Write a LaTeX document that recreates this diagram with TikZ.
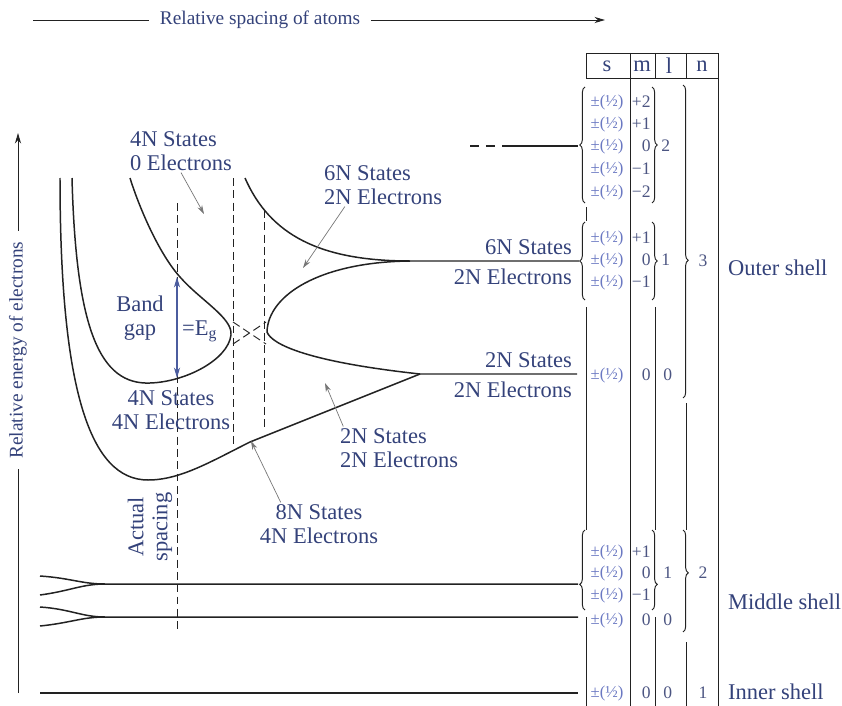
\documentclass[tikz,border=0pt]{standalone}
\usepackage{fontspec}
\setmainfont{Liberation Serif}
\usetikzlibrary{arrows.meta, decorations.pathreplacing}
\definecolor{bdink}{HTML}{34427A}
\definecolor{bdline}{HTML}{222222}
\definecolor{bdspin}{HTML}{6A78C2}
\definecolor{bdnum}{HTML}{4C5582}
\definecolor{bdgrey}{HTML}{777777}
\definecolor{bdgap}{HTML}{4B5C9E}

\begin{document}
\begin{tikzpicture}[x=0.02cm, y=-0.02cm, font=\fontsize{12.8}{13.6}\selectfont,
    lbl/.style={text=bdink, inner sep=1pt},
    band/.style={draw=bdline, line width=0.85pt},
    guide/.style={draw=bdline, line width=0.55pt, dash pattern=on 4.5pt off 2.5pt},
    pointer/.style={draw=bdgrey, line width=0.4pt, -{Stealth[length=5pt, width=3pt]}},
    spin/.style={text=bdspin, font=\fontsize{9.5}{10}\selectfont, inner sep=0pt},
    qnum/.style={text=bdnum, font=\fontsize{10}{11}\selectfont, inner sep=0pt},
    rule/.style={draw=bdline, line width=0.55pt},
    qbrace/.style={rule, decorate, decoration={brace, amplitude=3pt, aspect=#1}},
    qbrace/.default=0.5]
  \useasboundingbox (0,0) rectangle (842,706);

  \node[lbl, inner xsep=6pt, font=\fontsize{11}{13}\selectfont] (spacing) at (260,20) {Relative spacing of atoms};
  \draw[rule] (33,20) -- (spacing.west);
  \draw[rule, -{Stealth[length=6pt, width=3.5pt]}] (spacing.east) -- (605,20);
  \node[lbl, inner xsep=6pt, rotate=90, font=\fontsize{11}{13}\selectfont] (energy) at (18,350) {Relative energy of electrons};
  \draw[rule] (18,693) -- (energy.west);
  \draw[rule, -{Stealth[length=6pt, width=3.5pt]}] (energy.east) -- (18,133);

  \draw[band] (60,178) .. controls (60,390) and (90,480) .. (148,480)
    .. controls (180,480) and (210,462) .. (250,442) -- (420,374) -- (577,374);
  \draw[band] (72,178) .. controls (76,330) and (100,385) .. (150,383)
    .. controls (185,382) and (228,360) .. (231,335)
    .. controls (233,318) and (200,300) .. (180,277)
    .. controls (160,255) and (140,210) .. (130,178);
  \draw[band] (245,178) .. controls (270,235) and (320,261) .. (410,261) -- (579,261);
  \draw[band] (410,261) .. controls (320,262) and (268,295) .. (267,332)
    .. controls (272,345) and (310,362) .. (420,374);
  \draw[guide] (233,322) -- (266,344) (233,344) -- (266,322);
  \draw[guide] (177,203) -- (177,632);
  \draw[guide] (233,178) -- (233,445);
  \draw[guide] (264,210) -- (264,428);
  \draw[bdgap, line width=0.6pt, {Stealth[length=6pt, width=3.5pt]}-{Stealth[length=6pt, width=3.5pt]}] (177,277) -- (177,378);

  \draw[band, dash pattern=on 5pt off 4pt] (470,146) -- (500,146);
  \draw[band] (502,146) -- (578,146);
  \draw[band] (40,576) .. controls (70,578) and (82,584) .. (105,584) -- (578,584);
  \draw[band] (40,595) .. controls (70,591) and (82,584) .. (105,584);
  \draw[band] (40,607) .. controls (70,609) and (82,617) .. (105,617) -- (578,617);
  \draw[band] (40,626) .. controls (70,623) and (82,617) .. (105,617);
  \draw[band] (40,693) -- (578,693);

  \node[lbl, align=left, anchor=west] (cond4) at (128,151) {4N States\\0 Electrons};
  \node[lbl, align=left, anchor=west] (upper6) at (322,185) {6N States\\2N Electrons};
  \node[lbl, align=right, anchor=east] (lvl3p) at (574,262) {6N States\\[3.4pt]2N Electrons};
  \node[lbl, align=right, anchor=east] (lvl3s) at (574,375) {2N States\\[3.4pt]2N Electrons};
  \node[lbl, align=left, anchor=west] (lower2) at (338,448) {2N States\\2N Electrons};
  \node[lbl, align=center] (mix8) at (319,524) {8N States\\4N Electrons};
  \node[lbl, align=center] (val4) at (171,410) {4N States\\4N Electrons};
  \node[lbl, align=center] (gap) at (140,318) {Band\\gap};
  \node[lbl, anchor=west] (eg) at (180,331) {=E\textsubscript{g}};
  \node[lbl, align=center, rotate=90] (actual) at (150,527) {Actual\\spacing};

  \coordinate (hit4) at (204,214);
  \coordinate (hit6) at (303,268);
  \coordinate (hit2) at (325,383);
  \coordinate (hit8) at (251,441);
  \draw[pointer] (cond4.south) -- (hit4);
  \draw[pointer] ([xshift=13pt]upper6.south west) -- (hit6);
  \draw[pointer] ([xshift=3pt]lower2.north west) -- (hit2);
  \draw[pointer] ([xshift=13pt]mix8.north west) -- (hit8);

  \draw[rule] (586,53) rectangle (718,78);
  \foreach \xx in {655,686} \draw[rule] (\xx,53) -- (\xx,78);
  \draw[rule] (630,53) -- (630,706);
  \draw[rule] (718,78) -- (718,706);
  \draw[rule] (586,207) -- (586,221) (586,307) -- (586,530) (586,617) -- (586,706);
  \draw[rule] (655,307) -- (655,530) (655,617) -- (655,706);
  \draw[rule] (686,403) -- (686,530) (686,642) -- (686,706);
  \node[lbl] (hs) at (607,66) {s};
  \node[lbl] (hm) at (642,66) {m};
  \node[lbl] (hl) at (669,66) {l};
  \node[lbl] (hn) at (702,66) {n};

  \foreach \yy/\mm in {102/+2, 124/+1, 146/0, 169/−1, 192/−2}{
    \node[spin] (sd\yy) at (607,\yy) {±(½)};
    \node[qnum, anchor=east] (md\yy) at (651,\yy) {\mm};
  }
  \foreach \yy/\mm in {238/+1, 260/0, 282/−1}{
    \node[spin] (sp\yy) at (607,\yy) {±(½)};
    \node[qnum, anchor=east] (mp\yy) at (651,\yy) {\mm};
  }
  \foreach \yy/\mm in {552/+1, 573/0, 595/−1}{
    \node[spin] (sq\yy) at (607,\yy) {±(½)};
    \node[qnum, anchor=east] (mq\yy) at (651,\yy) {\mm};
  }
  \foreach \yy in {375,620,693}{
    \node[spin] (ss\yy) at (607,\yy) {±(½)};
    \node[qnum, anchor=east] (ms\yy) at (651,\yy) {0};
    \node[qnum, anchor=west] (ls\yy) at (663,\yy) {0};
  }

  \draw[qbrace] (585,203) -- (585,87);
  \draw[qbrace] (652,87) -- (652,203);
  \node[qnum, anchor=west] (l3d) at (661,146) {2};
  \draw[qbrace] (585,300) -- (585,222);
  \draw[qbrace] (652,222) -- (652,300);
  \node[qnum, anchor=west] (l3p) at (661,260) {1};
  \draw[qbrace=0.56] (683,85) -- (683,398);
  \node[qnum] (n3) at (703,261) {3};
  \draw[qbrace=0.32] (585,610) -- (585,530);
  \draw[qbrace=0.68] (652,530) -- (652,610);
  \node[qnum, anchor=west] (l2p) at (663,573) {1};
  \draw[qbrace=0.42] (683,530) -- (683,632);
  \node[qnum] (n2) at (703,573) {2};
  \node[qnum] (n1) at (703,693) {1};

  \node[lbl, anchor=west] (outer) at (726,268) {Outer shell};
  \node[lbl, anchor=west] (middle) at (726,602) {Middle shell};
  \node[lbl, anchor=west] (inner) at (726,692) {Inner shell};
\end{tikzpicture}
\end{document}
